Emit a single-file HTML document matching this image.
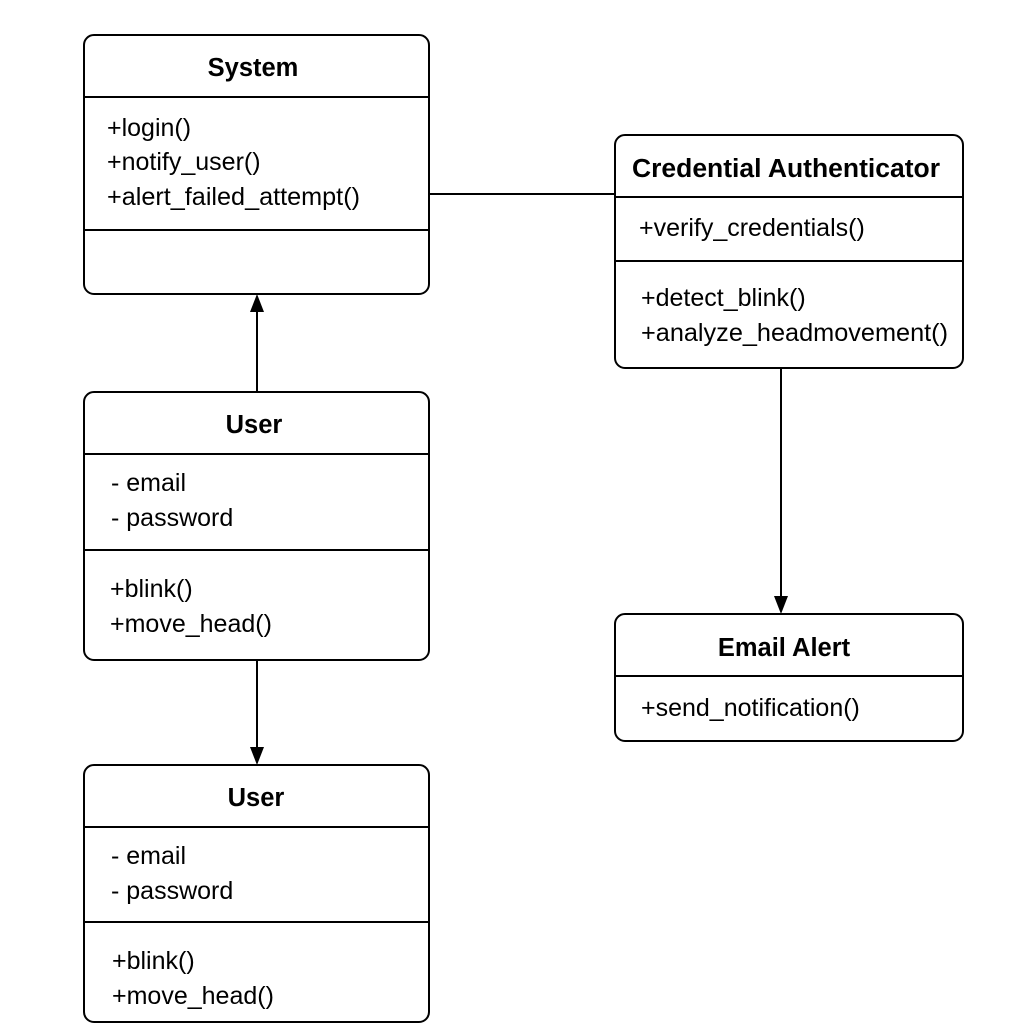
<!DOCTYPE html>
<html><head><meta charset="utf-8"><style>html,body{margin:0;padding:0;background:#fff}</style></head>
<body>
<svg width="1024" height="1024" xmlns="http://www.w3.org/2000/svg" font-family="Liberation Sans, sans-serif" font-size="25">
<g fill="none" stroke="#000" stroke-width="2">
<rect x="84" y="35" width="345" height="259" rx="10"/>
<line x1="84" y1="97" x2="429" y2="97"/><line x1="84" y1="230" x2="429" y2="230"/>
<rect x="615" y="135" width="348" height="233" rx="10"/>
<line x1="615" y1="197" x2="963" y2="197"/><line x1="615" y1="261" x2="963" y2="261"/>
<rect x="84" y="392" width="345" height="268" rx="10"/>
<line x1="84" y1="454" x2="429" y2="454"/><line x1="84" y1="550" x2="429" y2="550"/>
<rect x="84" y="765" width="345" height="257" rx="10"/>
<line x1="84" y1="827" x2="429" y2="827"/><line x1="84" y1="922" x2="429" y2="922"/>
<rect x="615" y="614" width="348" height="127" rx="10"/>
<line x1="615" y1="676" x2="963" y2="676"/>
<line x1="429" y1="194" x2="615" y2="194"/>
<line x1="257" y1="392" x2="257" y2="310"/>
<line x1="257" y1="660" x2="257" y2="750"/>
<line x1="781" y1="368" x2="781" y2="600"/>
</g>
<g fill="#000">
<polygon points="257,294 250,312 264,312"/>
<polygon points="257,765 250,747 264,747"/>
<polygon points="781,614 774,596 788,596"/>
</g>
<g font-weight="bold" text-anchor="middle" font-size="25.5">
<text x="253" y="76">System</text>
<text x="786" y="177" textLength="308" lengthAdjust="spacingAndGlyphs">Credential Authenticator</text>
<text x="254" y="433">User</text>
<text x="256" y="806">User</text>
<text x="784" y="656">Email Alert</text>
</g>
<g>
<text x="107" y="136">+login()</text>
<text x="107" y="170">+notify_user()</text>
<text x="107" y="205" textLength="253" lengthAdjust="spacingAndGlyphs">+alert_failed_attempt()</text>
<text x="639" y="236">+verify_credentials()</text>
<text x="641" y="306">+detect_blink()</text>
<text x="641" y="341" textLength="307" lengthAdjust="spacingAndGlyphs">+analyze_headmovement()</text>
<text x="111" y="491">- email</text>
<text x="111" y="526">- password</text>
<text x="110" y="597">+blink()</text>
<text x="110" y="632">+move_head()</text>
<text x="111" y="864">- email</text>
<text x="111" y="899">- password</text>
<text x="112" y="969">+blink()</text>
<text x="112" y="1004">+move_head()</text>
<text x="641" y="716">+send_notification()</text>
</g>
</svg>
</body></html>
